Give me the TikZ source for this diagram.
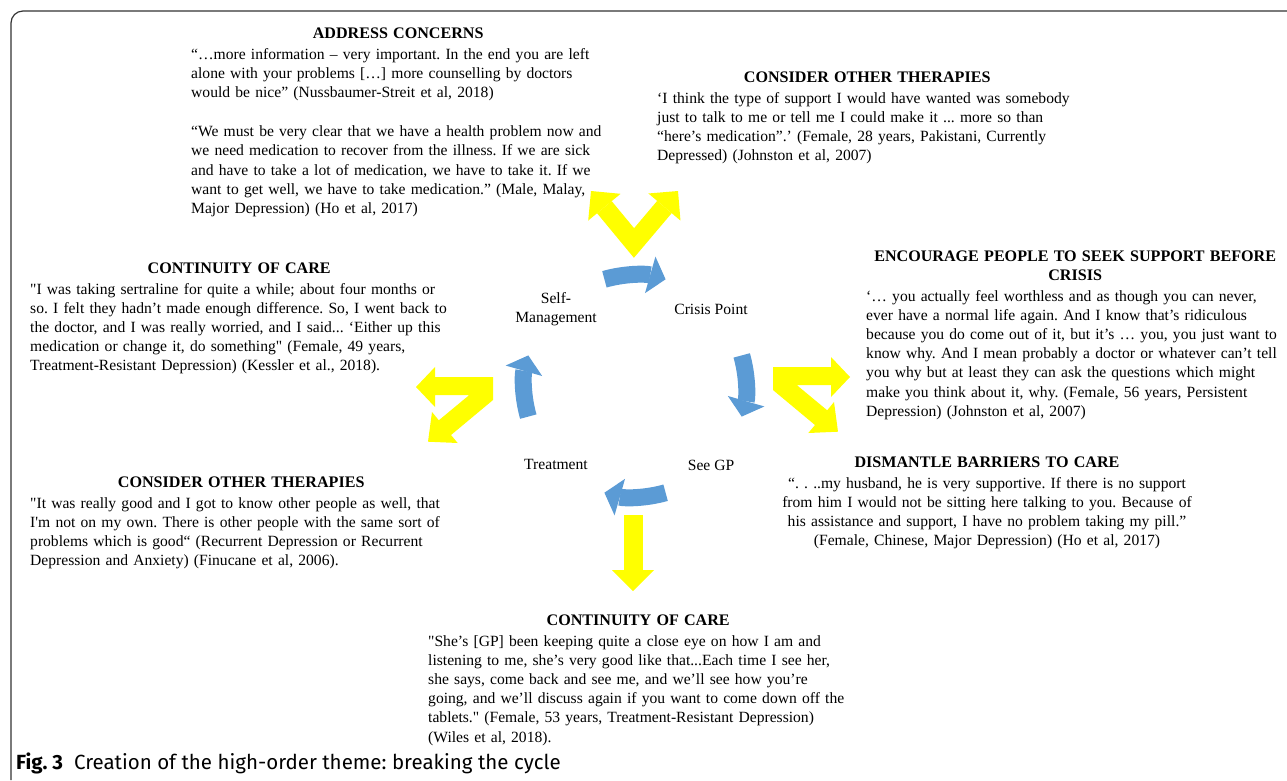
\documentclass[tikz,border=0pt]{standalone}
\usepackage{fontspec}
\setmainfont{Liberation Serif}
\newfontfamily\quotefont{Liberation Serif}
\newfontfamily\capfont{Fira Sans}
\usepackage{xcolor}
\usetikzlibrary{arrows.meta, positioning, calc}
\definecolor{cycblue}{HTML}{5B9BD5}
\definecolor{themeyellow}{HTML}{FFFF00}
\newcommand\themehead[1]{{\centering\fontsize{16.1}{19}\selectfont\bfseries #1\par}\vspace{1pt}}
\frenchspacing
\tikzset{
  quotebox/.style={inner sep=0pt, align=left, font=\quotefont\fontsize{15.6}{19.2}\selectfont},
  stage/.style={inner sep=1pt, align=center, font=\quotefont\fontsize{15.6}{19}\selectfont},
  cyclearrow/.style={draw=cycblue, line width=17pt, -{Triangle[width=38pt,length=16pt,line width=0pt]}},
  themearrow/.style={draw=themeyellow, line width=19pt, line join=miter},
  ytip/.tip={Triangle[width=42pt,length=21pt,line width=0pt]},
  frame/.style={draw=black!80, line width=1.2pt, rounded corners=12pt}
}

\begin{document}
\begin{tikzpicture}[x=1pt, y=-1pt]
  \useasboundingbox (0,0) rectangle (1287,780);
  \draw[frame] (11,780) -- (11,11) -- (1287,11);

  % the cycle
  \node[stage] (selfman) at (556,309) {Self-\\Management};
  \node[stage] (crisis) at (711,309) {Crisis Point};
  \node[stage] (seegp) at (711,465) {See GP};
  \node[stage] (treat) at (556,464) {Treatment};

  \coordinate (hub) at (635,386);
  \draw[cyclearrow] ([shift={(-106:111)}]hub) arc[start angle=-106, end angle=-74, radius=111];
  \draw[cyclearrow] ([shift={(-16:111)}]hub) arc[start angle=-16, end angle=16, radius=111];
  \draw[cyclearrow] ([shift={(74:111)}]hub) arc[start angle=74, end angle=106, radius=111];
  \draw[cyclearrow] ([shift={(164:111)}]hub) arc[start angle=164, end angle=196, radius=111];

  % themes
  \coordinate (vleft) at (591,191);
  \coordinate (vbottom) at (634,243);
  \coordinate (vright) at (678,191);
  \draw[themearrow, ytip-ytip] (vleft) -- (vbottom) -- (vright);

  \coordinate (downtop) at (633,515);
  \coordinate (downtip) at (633,591);
  \draw[themearrow, -ytip] (downtop) -- (downtip);

  \fill[themeyellow] (416,387) -- (435,367) -- (435,377) -- (493,377) -- (493,400) -- (451,435)
    -- (457.7,443) -- (428,441.7) -- (432,412) -- (438.8,420.3) -- (469.3,395) -- (435,395)
    -- (435,407) -- cycle;
  \fill[themeyellow] (850,377) -- (831,357) -- (831,367) -- (773,367) -- (773,390) -- (815,425)
    -- (808.3,433) -- (838,431.7) -- (834,402) -- (827.2,410.3) -- (796.7,385) -- (831,385)
    -- (831,397) -- cycle;

  \node[quotebox, text width=414pt, anchor=north west] (address) at (191,28) {%
    \themehead{ADDRESS CONCERNS}
    “…more information – very important. In the end you are left\\
    alone with your problems […] more counselling by doctors\\
    would be nice” (Nussbaumer-Streit et al, 2018)\\[20pt]
    “We must be very clear that we have a health problem now and\\
    we need medication to recover from the illness. If we are sick\\
    and have to take a lot of medication, we have to take it. If we\\
    want to get well, we have to take medication.” (Male, Malay,\\
    Major Depression) (Ho et al, 2017)};

  \node[quotebox, text width=420pt, anchor=north west] (therapiestop) at (657,72) {%
    \themehead{CONSIDER OTHER THERAPIES}
    ‘I think the type of support I would have wanted was somebody\\
    just to talk to me or tell me I could make it ... more so than\\
    “here’s medication”.’ (Female, 28 years, Pakistani, Currently\\
    Depressed) (Johnston et al, 2007)};

  \node[quotebox, text width=418pt, anchor=north west] (continuityleft) at (30,263) {%
    \themehead{CONTINUITY OF CARE}
    "I was taking sertraline for quite a while; about four months or\\
    so. I felt they hadn’t made enough difference. So, I went back to\\
    the doctor, and I was really worried, and I said... ‘Either up this\\
    medication or change it, do something" (Female, 49 years,\\
    Treatment-Resistant Depression) (Kessler et al., 2018).};

  \node[quotebox, text width=418pt, anchor=north west] (encourage) at (866,251) {%
    \themehead{ENCOURAGE PEOPLE TO SEEK SUPPORT BEFORE\\CRISIS}
    ‘… you actually feel worthless and as though you can never,\\
    ever have a normal life again. And I know that’s ridiculous\\
    because you do come out of it, but it’s … you, you just want to\\
    know why. And I mean probably a doctor or whatever can’t tell\\
    you why but at least they can ask the questions which might\\
    make you think about it, why. (Female, 56 years, Persistent\\
    Depression) (Johnston et al, 2007)};

  \node[quotebox, align=center, text width=440pt, anchor=north] (barriers) at (987,457) {%
    \themehead{DISMANTLE BARRIERS TO CARE}
    “. . ..my husband, he is very supportive. If there is no support\\
    from him I would not be sitting here talking to you. Because of\\
    his assistance and support, I have no problem taking my pill.”\\
    (Female, Chinese, Major Depression) (Ho et al, 2017)};

  \node[quotebox, text width=422pt, anchor=north west] (therapiesleft) at (30,477) {%
    \themehead{CONSIDER OTHER THERAPIES}
    "It was really good and I got to know other people as well, that\\
    I'm not on my own. There is other people with the same sort of\\
    problems which is good“ (Recurrent Depression or Recurrent\\
    Depression and Anxiety) (Finucane et al, 2006).};

  \node[quotebox, text width=420pt, anchor=north west] (continuitybottom) at (428,615) {%
    \themehead{CONTINUITY OF CARE}
    "She’s [GP] been keeping quite a close eye on how I am and\\
    listening to me, she’s very good like that...Each time I see her,\\
    she says, come back and see me, and we’ll see how you’re\\
    going, and we’ll discuss again if you want to come down off the\\
    tablets." (Female, 53 years, Treatment-Resistant Depression)\\
    (Wiles et al, 2018).};

  \node[anchor=base west, inner sep=0pt, font=\capfont\fontsize{20.5}{24}\selectfont] (caption) at (16,769)
    {\textbf{Fig. 3}\hspace{11pt}Creation of the high-order theme: breaking the cycle};
\end{tikzpicture}
\end{document}
